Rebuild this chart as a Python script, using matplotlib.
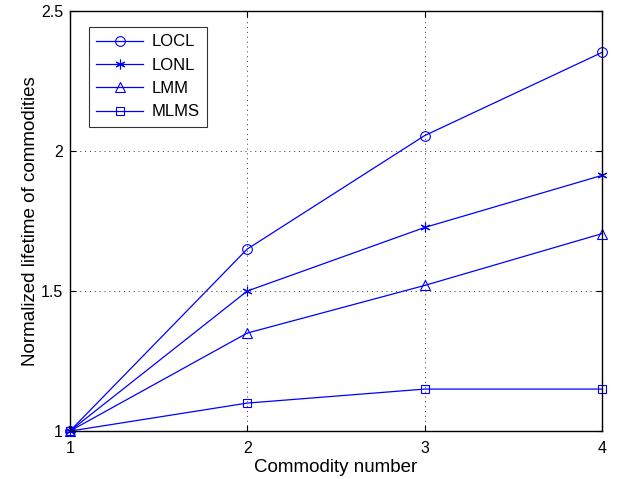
import matplotlib.pyplot as plt

plt.rcParams['font.family'] = ['Liberation Sans', 'DejaVu Sans']

commodity = [1, 2, 3, 4]
locl = [1.0, 1.65, 2.055, 2.352]
lonl = [1.0, 1.5, 1.727, 1.913]
lmm = [1.0, 1.35, 1.52, 1.705]
mlms = [1.0, 1.1, 1.15, 1.15]

# matlab style asterisk
star = (6, 2, 0)
series = [('LOCL', locl, 'o', 7), ('LONL', lonl, star, 7), ('LMM', lmm, '^', 7), ('MLMS', mlms, 's', 6)]

fig = plt.figure(figsize=(6.18, 4.79), dpi=100)
ax = fig.add_axes([0.113, 0.100, 0.861, 0.877])

for name, vals, mk, ms in series:
    ax.plot(commodity, vals, color='#0000ff', lw=0.9, marker=mk, ms=ms,
            mfc='none', mec='#0000ff', mew=0.8, label=name, clip_on=False, zorder=3)

ax.set_xlim(1, 4)
ax.set_ylim(1, 2.5)
ax.set_xticks([1, 2, 3, 4])
ax.set_yticks([1, 1.5, 2, 2.5])
ax.set_yticklabels(['1', '1.5', '2', '2.5'])
ax.grid(True, color='#333333', linestyle=(0, (1, 4)), lw=0.7)
ax.tick_params(direction='in', length=4, labelsize=11.5, top=True, right=True)
ax.tick_params(axis='x', pad=7)
ax.tick_params(axis='y', pad=5)
for s in ax.spines.values():
    s.set_linewidth(1.0)
    s.set_zorder(4)

ax.set_xlabel('Commodity number', fontsize=13.5, labelpad=2)
ax.set_ylabel('Normalized lifetime of commodities', fontsize=13.5, labelpad=1)

leg = ax.legend(loc='upper left', bbox_to_anchor=(0.036, 0.962), fontsize=12,
                handlelength=2.8, frameon=True, fancybox=False, borderpad=0.45,
                labelspacing=0.5, borderaxespad=0, handletextpad=0.5)
leg.get_frame().set_edgecolor('black')
leg.get_frame().set_linewidth(0.8)

fig.savefig('out.png', dpi=100)
